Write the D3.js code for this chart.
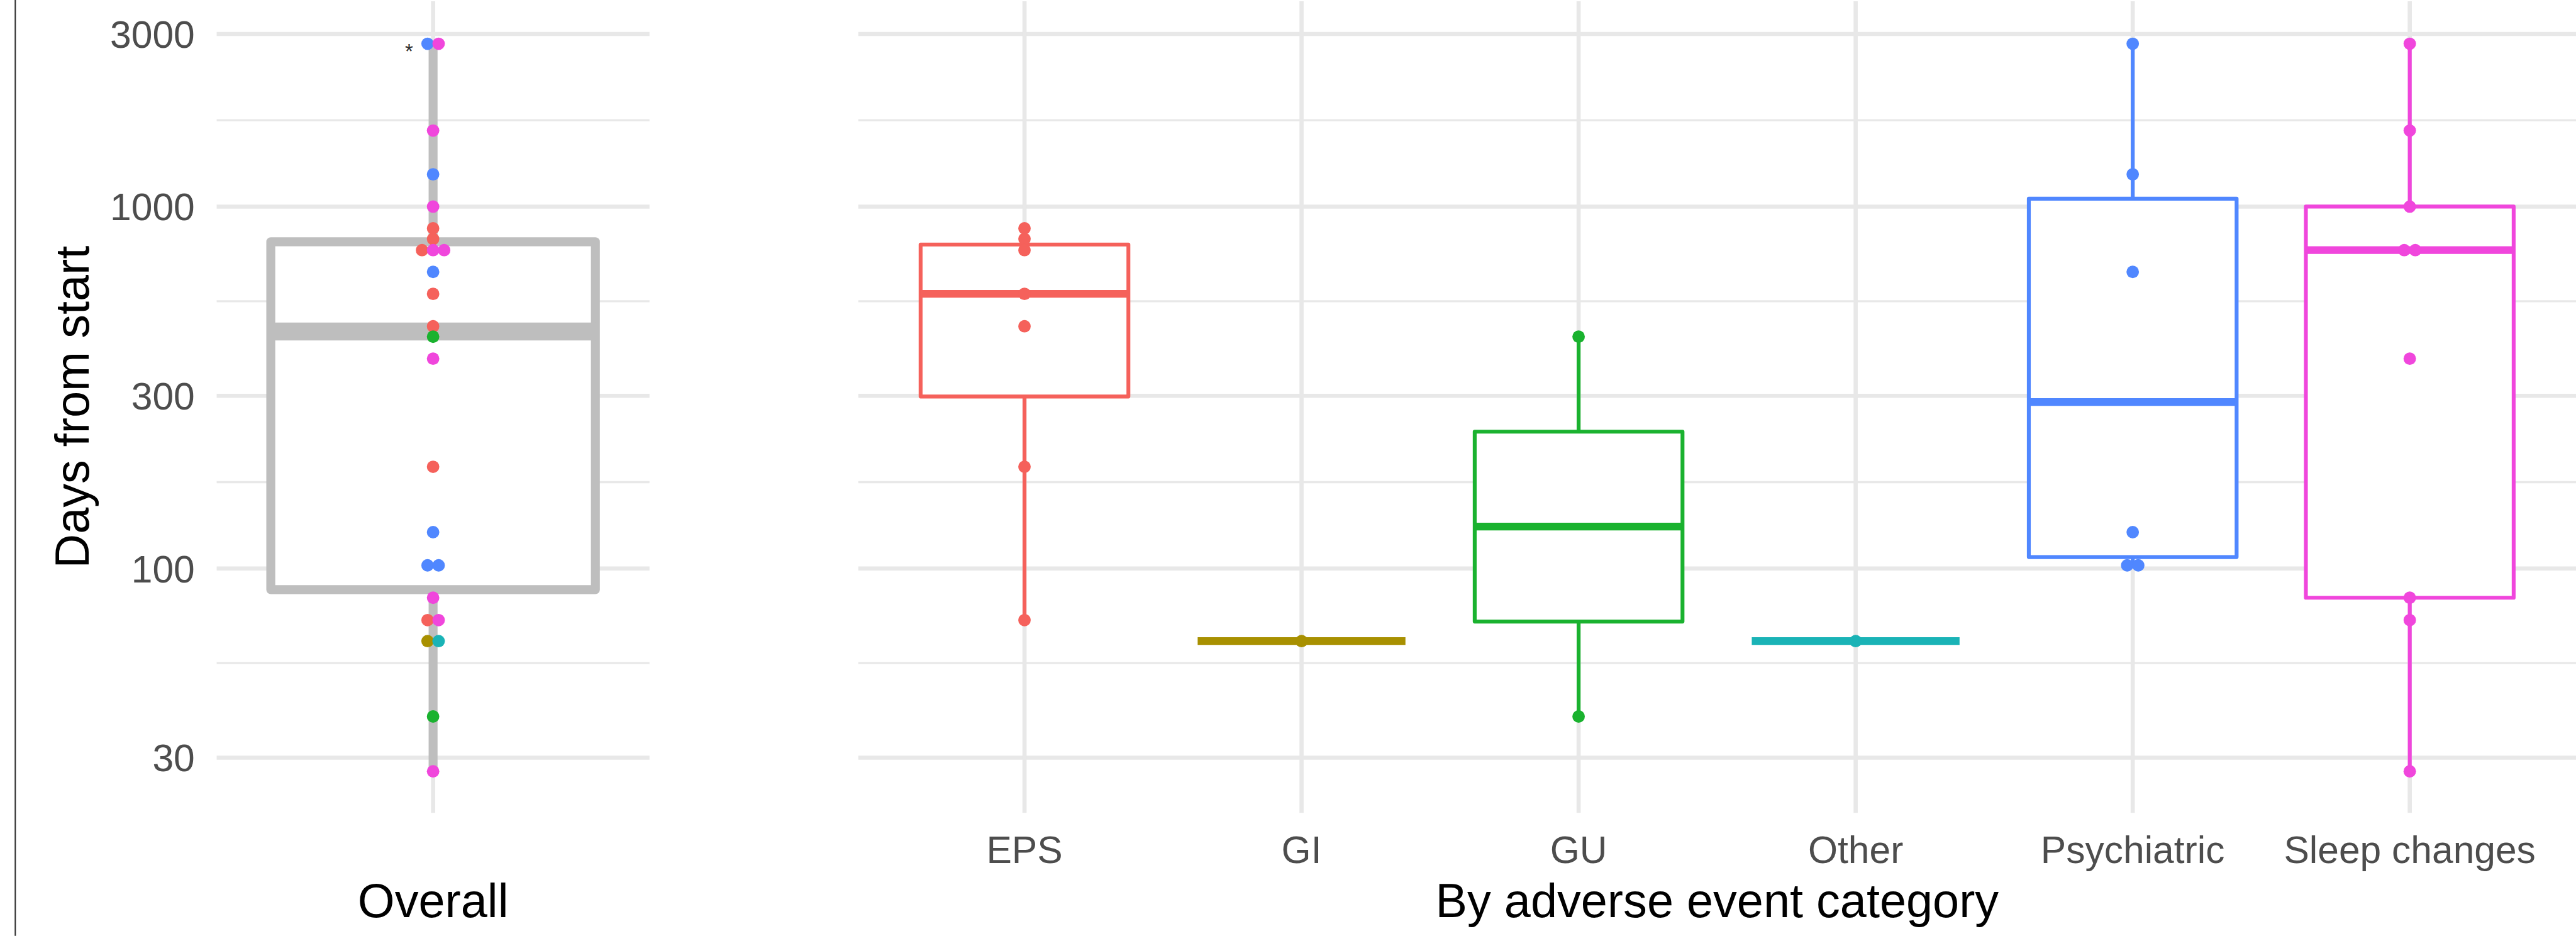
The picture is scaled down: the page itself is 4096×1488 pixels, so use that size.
<!DOCTYPE html>
<html>
<head>
<meta charset="utf-8">
<script src="https://cdn.jsdelivr.net/npm/d3@7"></script>
<style>
  html, body { margin: 0; padding: 0; background: #ffffff; }
  svg { display: block; }
</style>
</head>
<body>
<svg id="chart"></svg>
<script>
// ---- data -------------------------------------------------------------
const categories = ["EPS", "GI", "GU", "Other", "Psychiatric", "Sleep changes"];
const categoryColors = ["#F5615B", "#A89000", "#1AB22F", "#1AB3B6", "#5087FF", "#F046DC"];

const epsDays         = [871, 814, 758, 574, 467, 191, 72];
const giDays          = [63];
const guDays          = [437, 39];
const otherDays       = [63];
const psychiatricDays = [2818, 1228, 660, 126, 102, 102];
const sleepDays       = [2818, 1622, 1000, 758, 758, 380, 83, 72, 27.5];

const yTicks = [30, 100, 300, 1000, 3000];
const overallLabel = "Overall";
const yTitle = "Days from start";
const xTitle = "By adverse event category";
const flagLabel = "*";

// ---- layout (drawn at base size, then scaled to the window) ------------
const baseW = 4331, baseH = 1573;
const k = 4096 / baseW;

const svg = d3.select("#chart")
  .attr("width", 4096)
  .attr("height", 1488);

const root = svg.append("g").attr("transform", `scale(${k})`);

const panelTop = 2, panelBottom = 1366.5;
const leftPanel  = { x0: 364.3, x1: 1092 };
const rightPanel = { x0: 1443, x1: 4331 };

const font = "'Liberation Sans', Arial, Helvetica, sans-serif";
const gridColor = "#E8E8E8";

// log scale for days
const y = d3.scaleLog().domain([21.11, 3695]).range([panelBottom, panelTop]);

const xLeft = d3.scalePoint().domain([overallLabel])
  .range([leftPanel.x0, leftPanel.x1]).padding(0.6);
const xRight = d3.scalePoint().domain(categories)
  .range([rightPanel.x0, rightPanel.x1]).padding(0.6);

const colorOf = d3.scaleOrdinal().domain(categories).range(categoryColors);

const seriesByCat = new Map([
  ["EPS", epsDays], ["GI", giDays], ["GU", guDays],
  ["Other", otherDays], ["Psychiatric", psychiatricDays], ["Sleep changes", sleepDays]
]);

// all points, in category order
const allPoints = [];
categories.forEach(c => seriesByCat.get(c).forEach(v => allPoints.push({ cat: c, value: v })));

// ---- gridlines --------------------------------------------------------
const logTicks = yTicks.map(Math.log10);
const minorTicks = d3.pairs(logTicks).map(([a, b]) => Math.pow(10, (a + b) / 2));

function drawGrid(panel, xScale) {
  const g = root.append("g");
  g.selectAll("line.minor").data(minorTicks).join("line")
    .attr("x1", panel.x0).attr("x2", panel.x1)
    .attr("y1", d => y(d)).attr("y2", d => y(d))
    .attr("stroke", gridColor).attr("stroke-width", 3.5);
  g.selectAll("line.major").data(yTicks).join("line")
    .attr("x1", panel.x0).attr("x2", panel.x1)
    .attr("y1", d => y(d)).attr("y2", d => y(d))
    .attr("stroke", gridColor).attr("stroke-width", 7);
  g.selectAll("line.vert").data(xScale.domain()).join("line")
    .attr("x1", d => xScale(d)).attr("x2", d => xScale(d))
    .attr("y1", panelTop).attr("y2", panelBottom)
    .attr("stroke", gridColor).attr("stroke-width", 7);
}
drawGrid(leftPanel, xLeft);
drawGrid(rightPanel, xRight);

// ---- box statistics (computed on the log scale) -----------------------
function boxStats(values) {
  const l = values.map(Math.log10).sort(d3.ascending);
  const q1 = d3.quantileSorted(l, 0.25);
  const med = d3.quantileSorted(l, 0.5);
  const q3 = d3.quantileSorted(l, 0.75);
  const iqr = q3 - q1;
  const lo = d3.min(l.filter(v => v >= q1 - 1.5 * iqr));
  const hi = d3.max(l.filter(v => v <= q3 + 1.5 * iqr));
  const p = v => Math.pow(10, v);
  return { q1: p(q1), med: p(med), q3: p(q3), lo: p(lo), hi: p(hi) };
}

function drawBox(cx, halfW, values, color, lw) {
  const s = boxStats(values);
  const g = root.append("g");
  g.append("line")
    .attr("x1", cx).attr("x2", cx).attr("y1", y(s.q3)).attr("y2", y(s.hi))
    .attr("stroke", color).attr("stroke-width", lw);
  g.append("line")
    .attr("x1", cx).attr("x2", cx).attr("y1", y(s.q1)).attr("y2", y(s.lo))
    .attr("stroke", color).attr("stroke-width", lw);
  g.append("rect")
    .attr("x", cx - halfW).attr("width", 2 * halfW)
    .attr("y", y(s.q3)).attr("height", Math.max(0, y(s.q1) - y(s.q3)))
    .attr("fill", "#ffffff").attr("stroke", color).attr("stroke-width", lw)
    .attr("stroke-linejoin", "round");
  g.append("line")
    .attr("x1", cx - halfW).attr("x2", cx + halfW)
    .attr("y1", y(s.med)).attr("y2", y(s.med))
    .attr("stroke", color).attr("stroke-width", lw * 2);
}

// overall box
const overallValues = allPoints.map(d => d.value);
drawBox(xLeft(overallLabel), 0.45 * xLeft.step(), overallValues, "#BEBEBE", 15);

// per-category boxes
categories.forEach(c => {
  drawBox(xRight(c), 0.375 * xRight.step(), seriesByCat.get(c), colorOf(c), 6.5);
});

// ---- points: tied values are spread side by side ----------------------
const pointR = 10.5, spread = 18.6;

function placePoints(points, cxOf) {
  const groups = d3.group(points, d => cxOf(d), d => d.value);
  const out = [];
  groups.forEach((byVal, cx) => byVal.forEach(list => {
    list.forEach((d, i) => out.push({ ...d, px: cx + (i - (list.length - 1) / 2) * spread }));
  }));
  return out;
}

const overallPlaced = placePoints(allPoints, () => xLeft(overallLabel));
const catPlaced = placePoints(allPoints, d => xRight(d.cat));

root.append("g").selectAll("circle").data(overallPlaced.concat(catPlaced)).join("circle")
  .attr("cx", d => d.px).attr("cy", d => y(d.value)).attr("r", pointR)
  .attr("fill", d => colorOf(d.cat));

// flag beside the longest duration
root.append("text")
  .attr("x", xLeft(overallLabel) - 40.5)
  .attr("y", y(d3.max(overallValues)) + 25)
  .attr("text-anchor", "middle")
  .attr("font-family", font).attr("font-size", 35).attr("fill", "#333333")
  .text(flagLabel);

// ---- axes text --------------------------------------------------------
const yAxisG = root.append("g");
yAxisG.selectAll("text").data(yTicks).join("text")
  .attr("x", 327.5).attr("y", d => y(d)).attr("dy", "0.36em")
  .attr("text-anchor", "end")
  .attr("font-family", font).attr("font-size", 64).attr("fill", "#4D4D4D")
  .text(d => d3.format("d")(d));

root.append("text")
  .attr("transform", `translate(149, ${(panelTop + panelBottom) / 2}) rotate(-90)`)
  .attr("text-anchor", "middle")
  .attr("font-family", font).attr("font-size", 80).attr("fill", "#000000")
  .text(yTitle);

root.append("g").selectAll("text").data(categories).join("text")
  .attr("x", d => xRight(d)).attr("y", 1450.5)
  .attr("text-anchor", "middle")
  .attr("font-family", font).attr("font-size", 64).attr("fill", "#4D4D4D")
  .text(d => d);

root.append("text")
  .attr("x", (leftPanel.x0 + leftPanel.x1) / 2).attr("y", 1542)
  .attr("text-anchor", "middle")
  .attr("font-family", font).attr("font-size", 80).attr("fill", "#000000")
  .text(overallLabel);

root.append("text")
  .attr("x", (rightPanel.x0 + rightPanel.x1) / 2).attr("y", 1542)
  .attr("text-anchor", "middle")
  .attr("font-family", font).attr("font-size", 80).attr("fill", "#000000")
  .text(xTitle);

// left frame rule
root.append("line")
  .attr("x1", 25.7).attr("x2", 25.7).attr("y1", 0).attr("y2", baseH)
  .attr("stroke", "#333333").attr("stroke-width", 2.2);
</script>
</body>
</html>
